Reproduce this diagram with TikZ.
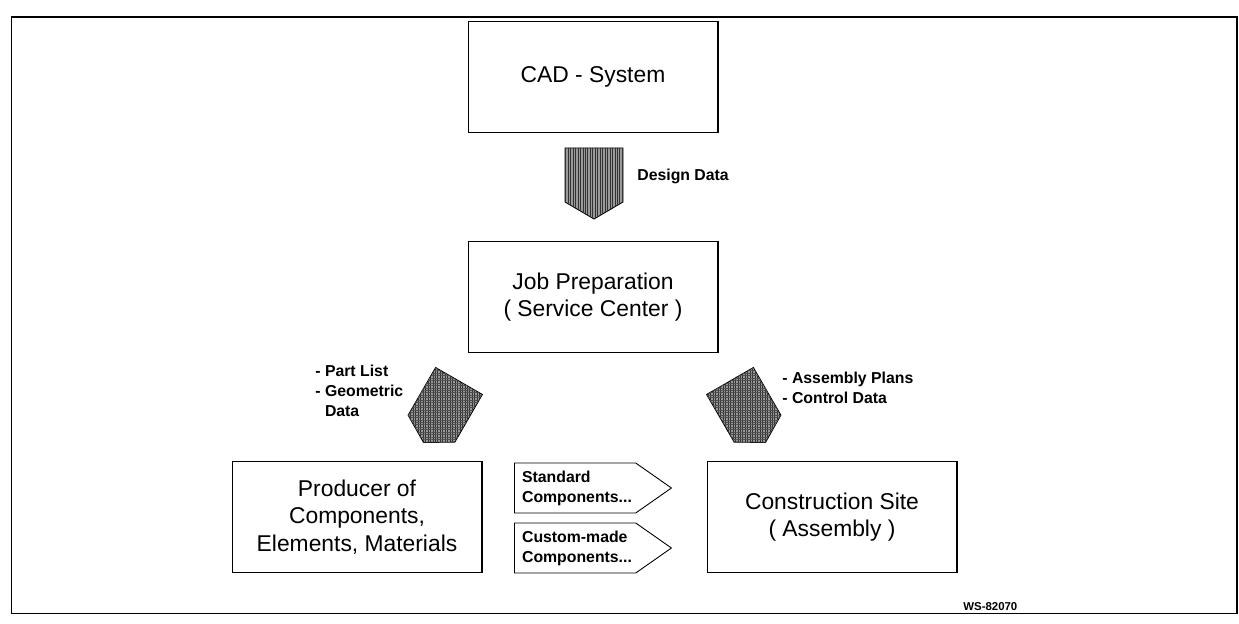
\documentclass[tikz,border=0pt]{standalone}
\usepackage{fontspec}
\setmainfont{Liberation Sans}
\usetikzlibrary{positioning,shapes.symbols,patterns.meta}
\tikzset{
    %Define style for boxes
    stationbox/.style={
           rectangle,
           draw=black, line width=0.6pt,
           minimum width=5cm,
           minimum height=2.22cm,
           align=center,
           font=\fontsize{13}{15.5}\selectfont},
    flagbox/.style={
           signal, signal to=east, signal pointer angle=70,
           draw=black, line width=0.5pt,
           minimum width=3.14cm,
           minimum height=1cm,
           text width=2.12cm, align=left,
           inner xsep=0.15cm,
           font=\bfseries\fontsize{9}{11.3}\selectfont},
    datalabel/.style={
           align=left, inner sep=0pt,
           font=\bfseries\fontsize{9}{11.3}\selectfont},
    % Define style for the block arrows
    blockarrow/.style={
           draw=black, line width=0.5pt,
           fill=black!40,
           postaction={pattern color=black!80,
                       pattern={Lines[angle=90,distance=1.4pt,line width=0.45pt]}}},
    gridarrow/.style={
           blockarrow,
           postaction={pattern color=black!70,
                       pattern={Lines[angle=0,distance=1.4pt,line width=0.35pt]}}},
    framebox/.style={draw=black, line width=0.9pt}
}
\begin{document}
\begin{tikzpicture}[x=0.02cm, y=-0.02cm]
\useasboundingbox (0,0) rectangle (1239,624);
\draw[framebox] (11.5,17) rectangle (1237,613.5);
 %nodes
\node[stationbox] (cad) at (593,77) {CAD - System};
\node[stationbox, below=2.16cm of cad] (job) {Job Preparation\\( Service Center )};
\node[stationbox] (producer) at (357,517) {Producer of\\Components,\\Elements, Materials};
\node[stationbox] (site) at (832,517) {Construction Site\\( Assembly )};
\node[flagbox, anchor=west] (standard) at (514,488) {Standard\\Components...};
\node[flagbox, anchor=west] (custom) at (514,548) {\mbox{Custom-made}\\Components...};
 %block arrows
\filldraw[blockarrow] (594,148) ++(-29,0) -- ++(58,0) -- ++(0,54) -- ++(-29,17) -- ++(-29,-17) -- cycle;
\begin{scope}[shift={(459,381)}, rotate=-30]
  \filldraw[gridarrow] (-27,0) -- (27,0) -- (27,55) -- (0,71) -- (-27,55) -- cycle;
\end{scope}
\begin{scope}[shift={(730,381)}, rotate=30]
  \filldraw[gridarrow] (-27,0) -- (27,0) -- (27,55) -- (0,71) -- (-27,55) -- cycle;
\end{scope}
 %labels
\node[datalabel, anchor=west] (design) at (637,176) {Design Data};
\node[datalabel, anchor=west] (partlist) at (315,391) {- Part List\\- Geometric\\\hphantom{- }Data};
\node[datalabel, anchor=west] (plans) at (782,388) {- Assembly Plans\\- Control Data};
\node[datalabel, anchor=west, font=\bfseries\fontsize{6.5}{8}\selectfont] (ws) at (963,607) {WS-82070};
\end{tikzpicture}
\end{document}
